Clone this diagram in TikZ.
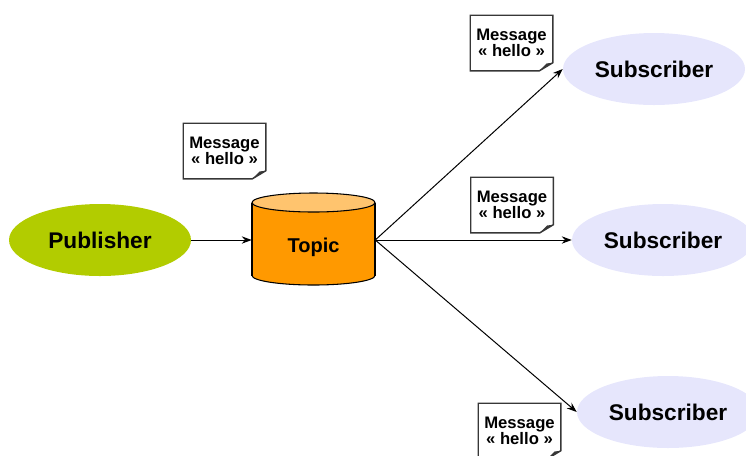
\documentclass[tikz,border=0pt]{standalone}
\usepackage{fontspec}
\setmainfont{Liberation Sans}
\usetikzlibrary{shapes.geometric,arrows.meta}
\definecolor{pubgreen}{RGB}{178,204,0}
\definecolor{topicorange}{RGB}{255,153,0}
\definecolor{topiclight}{RGB}{255,196,110}
\definecolor{sublavender}{RGB}{230,230,252}
\definecolor{boxgray}{RGB}{55,55,55}

\begin{document}
\begin{tikzpicture}[x=0.75pt,y=-0.75pt,
  party/.style={ellipse,inner sep=0pt,minimum width=136.5pt,minimum height=54pt,font=\fontsize{17}{20}\selectfont\bfseries},
  msg/.style={inner sep=0pt,minimum width=61.5pt,minimum height=41.25pt,align=center,font=\fontsize{12.5}{12}\selectfont\bfseries},
  flow/.style={-{Stealth[length=7.5pt,width=5.5pt]},line width=0.75pt}]
\useasboundingbox (0,0) rectangle (746,455);
\clip (0,0) rectangle (746,455);
\def\topellipse{(313.5,202.5) ellipse [x radius=61.5, y radius=9.5]}
\def\bottomellipse{(313.5,275.5) ellipse [x radius=61.5, y radius=9.5]}
    % topic cylinder
    \fill[topicorange] \bottomellipse;
    \fill[topicorange] (252,202.5) rectangle (375,275.5);
    \begin{scope}
        \clip (240,275.5) rectangle (390,300);
        \draw[line width=0.8pt] \bottomellipse;
    \end{scope}
    \draw[line width=0.8pt] (252,202.5) -- (252,275.5) (375,202.5) -- (375,275.5);
    \draw[fill=topiclight,line width=0.8pt] \topellipse;
    \node[inner sep=0pt,minimum width=92.25pt,minimum height=70.5pt,text height=19pt,text depth=0pt,font=\fontsize{15}{18}\selectfont\bfseries] (topic) at (313.5,240) {Topic};

    \node[party,fill=pubgreen] (pub) at (100,240) {Publisher};
    \node[party,fill=sublavender] (sub1) at (654,69) {Subscriber};
    \node[party,fill=sublavender] (sub2) at (663,240) {Subscriber};
    \node[party,fill=sublavender] (sub3) at (668,412) {Subscriber};

    \draw[flow] (pub) -- (topic);
    \draw[flow] (topic.east) -- (sub1.west);
    \draw[flow] (topic.east) -- (sub2.west);
    \draw[flow] (topic.east) -- (sub3.west);

    % messages
    \node[msg] (m1) at (224.5,151) {Message\\« hello »};
    \node[msg] (m2) at (511.5,43) {Message\\« hello »};
    \node[msg] (m3) at (512,205) {Message\\« hello »};
    \node[msg] (m4) at (519.5,431) {Message\\« hello »};
    \foreach \m in {m1,m2,m3,m4} {
        \draw[boxgray,line width=1.1pt] (\m.north west) -- (\m.north east) -- ([yshift=6pt]\m.south east) -- ([xshift=-10pt]\m.south east) -- (\m.south west) -- cycle;
        \fill[boxgray] ([xshift=-10pt]\m.south east) -- ([yshift=6pt]\m.south east) -- ([xshift=-4.5pt,yshift=5.5pt]\m.south east) -- cycle;
    }
\end{tikzpicture}
\end{document}
